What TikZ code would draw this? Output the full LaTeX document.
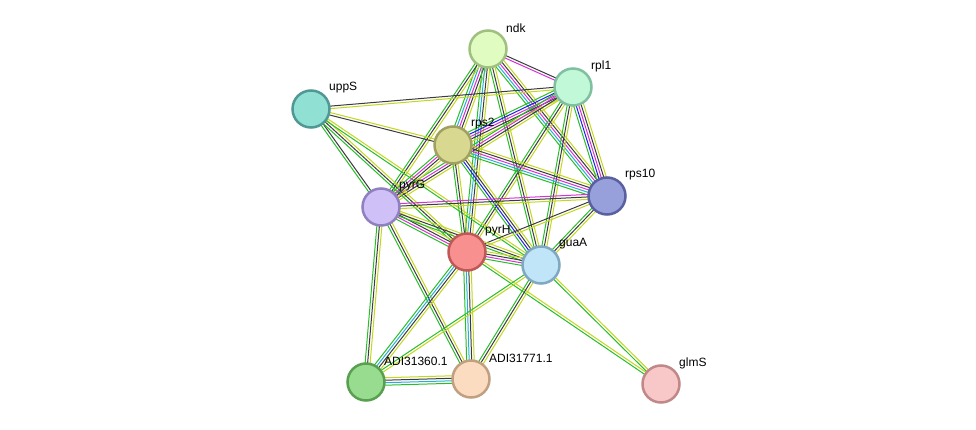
\documentclass[tikz,border=0pt]{standalone}
\usepackage{fontspec}
\setmainfont{Liberation Sans}
\usetikzlibrary{calc}
\definecolor{eg}{RGB}{40,190,40}
\definecolor{ey}{RGB}{195,215,30}
\definecolor{ek}{RGB}{60,60,60}
\definecolor{em}{RGB}{215,50,215}
\definecolor{ec}{RGB}{40,175,215}
\definecolor{eb}{RGB}{30,30,235}
\newcommand\edgeb[3]{%
 \def\nn{0}\foreach \cc in {#3}{\pgfmathtruncatemacro\tt{\nn+1}\global\let\nn\tt}%
 \foreach \cc [count=\i] in {#3}{\pgfmathsetmacro\oo{(\i-(\nn+1)/2)*2.5}%
 \draw[draw=e\cc,line width=1pt] ($(#1)!\oo pt!90:(#2)$) -- ($(#2)!\oo pt!-90:(#1)$);}}
\tikzset{prot/.style={circle,minimum size=37pt,line width=2.5pt,inner sep=0pt},
 lab/.style={anchor=west,font=\fontsize{12}{14}\selectfont,text=black,inner sep=0pt}}
\begin{document}
\begin{tikzpicture}[x=1pt,y=-1pt]
\useasboundingbox (0,0) rectangle (976,430);
\coordinate (ndk) at (488,49);
\coordinate (rpl1) at (573,87);
\coordinate (uppS) at (311,109);
\coordinate (rps2) at (453,145);
\coordinate (rps10) at (607,196);
\coordinate (pyrG) at (381,207);
\coordinate (pyrH) at (467,252);
\coordinate (guaA) at (541,265);
\coordinate (A1) at (366,382);
\coordinate (A2) at (471,379);
\coordinate (glmS) at (661,384);
\edgeb{ndk}{rpl1}{m,k}
\edgeb{ndk}{rps2}{g,c,m,k,y}
\edgeb{ndk}{rps10}{g,c,m,k,y}
\edgeb{ndk}{pyrG}{g,k,y}
\edgeb{ndk}{pyrH}{g,c,k,y}
\edgeb{ndk}{guaA}{g,k,y}
\edgeb{rpl1}{uppS}{k,y}
\edgeb{rpl1}{rps2}{g,b,m,k,y}
\edgeb{rpl1}{rps10}{g,b,m,k,y}
\edgeb{rpl1}{pyrG}{g,m,k,y}
\edgeb{rpl1}{pyrH}{g,k,y}
\edgeb{rpl1}{guaA}{g,k,y}
\edgeb{uppS}{rps2}{k,y}
\edgeb{uppS}{pyrG}{g,k}
\edgeb{uppS}{pyrH}{g,k,y}
\edgeb{uppS}{guaA}{g,y}
\edgeb{rps2}{rps10}{g,c,m,k,y}
\edgeb{rps2}{pyrG}{g,m,k,y}
\edgeb{rps2}{pyrH}{g,k,y}
\edgeb{rps2}{guaA}{g,b,k,y}
\edgeb{rps10}{pyrG}{m,k,y}
\edgeb{rps10}{pyrH}{k,y}
\edgeb{rps10}{guaA}{g,k,y}
\edgeb{pyrG}{pyrH}{g,m,k,y}
\edgeb{pyrG}{guaA}{g,k,y}
\edgeb{pyrG}{A1}{g,k,y}
\edgeb{pyrG}{A2}{g,k,y}
\edgeb{pyrH}{guaA}{g,m,k,y}
\edgeb{pyrH}{A1}{g,c,k,y}
\edgeb{pyrH}{A2}{g,c,k,y}
\edgeb{pyrH}{glmS}{g,y}
\edgeb{guaA}{A1}{g,y}
\edgeb{guaA}{A2}{g,k,y}
\edgeb{guaA}{glmS}{g,y}
\edgeb{A1}{A2}{g,c,k,y}
\node[prot,fill={rgb,255:red,224;green,252;blue,192},draw={rgb,255:red,160;green,192;blue,128}] (nndk) at (ndk) {};
\node[prot,fill={rgb,255:red,192;green,248;blue,216},draw={rgb,255:red,128;green,192;blue,160}] (nrpl1) at (rpl1) {};
\node[prot,fill={rgb,255:red,144;green,224;blue,212},draw={rgb,255:red,80;green,152;blue,148}] (nuppS) at (uppS) {};
\node[prot,fill={rgb,255:red,216;green,216;blue,144},draw={rgb,255:red,160;green,160;blue,96}] (nrps2) at (rps2) {};
\node[prot,fill={rgb,255:red,152;green,160;blue,220},draw={rgb,255:red,88;green,96;blue,160}] (nrps10) at (rps10) {};
\node[prot,fill={rgb,255:red,208;green,192;blue,248},draw={rgb,255:red,144;green,128;blue,192}] (npyrG) at (pyrG) {};
\node[prot,fill={rgb,255:red,248;green,144;blue,144},draw={rgb,255:red,192;green,88;blue,88}] (npyrH) at (pyrH) {};
\node[prot,fill={rgb,255:red,192;green,228;blue,248},draw={rgb,255:red,128;green,168;blue,192}] (nguaA) at (guaA) {};
\node[prot,fill={rgb,255:red,152;green,220;blue,144},draw={rgb,255:red,88;green,160;blue,80}] (nA1) at (A1) {};
\node[prot,fill={rgb,255:red,252;green,220;blue,192},draw={rgb,255:red,192;green,160;blue,128}] (nA2) at (A2) {};
\node[prot,fill={rgb,255:red,248;green,200;blue,200},draw={rgb,255:red,192;green,136;blue,136}] (nglmS) at (glmS) {};
\node[lab] at ($(ndk)+(18,-21)$) {ndk};
\node[lab] at ($(rpl1)+(18,-21)$) {rpl1};
\node[lab] at ($(uppS)+(18,-21)$) {uppS};
\node[lab] at ($(rps2)+(18,-21)$) {rps2};
\node[lab] at ($(rps10)+(18,-21)$) {rps10};
\node[lab] at ($(pyrG)+(18,-21)$) {pyrG};
\node[lab] at ($(pyrH)+(18,-21)$) {pyrH};
\node[lab] at ($(guaA)+(18,-21)$) {guaA};
\node[lab] at ($(A1)+(18,-21)$) {ADI31360.1};
\node[lab] at ($(A2)+(18,-21)$) {ADI31771.1};
\node[lab] at ($(glmS)+(18,-21)$) {glmS};
\end{tikzpicture}
\end{document}
